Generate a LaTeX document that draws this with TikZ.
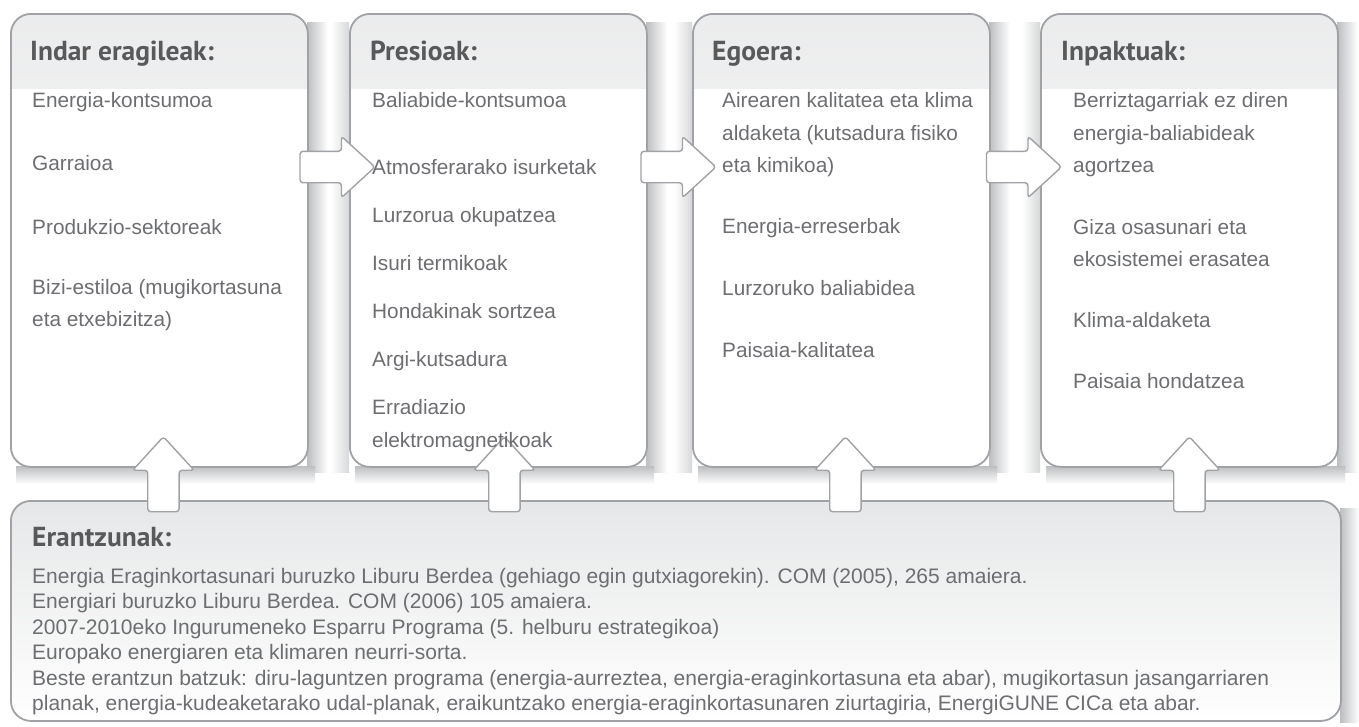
\documentclass[tikz,border=0pt]{standalone}
\usepackage{fontspec}
\setmainfont{Liberation Sans}
\newfontfamily\headfont{PT Sans}
\usetikzlibrary{calc, positioning, shapes.arrows}
\definecolor{dps-text}{HTML}{6D6E71}
\definecolor{dps-head}{HTML}{58595B}
\definecolor{dps-rule}{HTML}{A0A2A5}
\definecolor{dps-tint}{HTML}{E6E7E8}
\definecolor{dps-shade}{HTML}{BCBEC0}

\tikzset{
  panel/.style={draw=dps-rule, line width=1.8pt, rounded corners=20pt, fill=white,
    minimum width=297pt, minimum height=453pt, inner sep=0pt, anchor=north west,
    path picture={\shade[sharp corners, top color=dps-tint!80, bottom color=white]
      (path picture bounding box.north west) rectangle ([yshift=-75pt]path picture bounding box.north east);}},
  basepanel/.style={draw=dps-rule, line width=1.8pt, rounded corners=20pt,
    top color=dps-tint, bottom color=white, inner sep=0pt, anchor=north west},
  heading/.style={anchor=base west, inner sep=0pt, text=dps-head, font=\headfont\bfseries\fontsize{27.5}{32}\selectfont},
  entry/.style={anchor=base west, inner sep=0pt, text=dps-text, font=\fontsize{20.8}{24}\selectfont},
  note/.style={entry, font=\fontsize{21}{25}\selectfont},
  blockarrow/.style={single arrow, draw=dps-rule, line width=1.4pt, fill=white, rounded corners=3pt,
    inner sep=0pt, text height=15pt, text depth=15pt, minimum height=75pt,
    single arrow head extend=15pt, single arrow tip angle=85}
}

\begin{document}
\begin{tikzpicture}[x=1pt, y=-1pt]
  \useasboundingbox (0,0) rectangle (1359,726);

  % soft shadows behind the panels
  \foreach \l in {10, 349, 692, 1040} {
    \shade[left color=dps-shade, right color=white] (\l+297,22) rectangle (\l+318,472);
    \shade[top color=dps-shade, bottom color=white] (\l+6,466) rectangle (\l+305,484);
  }
  \foreach \l in {349, 692, 1040}
    \shade[left color=white, right color=dps-shade!60] (\l-18,22) rectangle (\l,472);
  \shade[left color=dps-shade, right color=white] (1340,508) rectangle (1359,722);

  % panels
  \node[panel] (indar) at (10,13) {};
  \node[panel] (presio) at (349,13) {};
  \node[panel] (egoera) at (692,13) {};
  \node[panel] (inpaktu) at (1040,13) {};
  \node[basepanel, minimum width=1330pt, minimum height=220pt] (erantzun) at (10,500) {};

  % right arrows
  \node[blockarrow] (ar1) at ($(indar.north east)!0.5!(presio.north west)+(0,154)$) {};
  \node[blockarrow] (ar2) at ($(presio.north east)!0.5!(egoera.north west)+(0,154)$) {};
  \node[blockarrow] (ar3) at ($(egoera.north east)!0.5!(inpaktu.north west)+(0,154)$) {};

  % up arrows from the responses
  \node[blockarrow, rotate=90] (au1) at ($(indar.south)+(4,15)$) {};
  \node[blockarrow, rotate=90] (au2) at ($(presio.south)+(6,15)$) {};
  \node[blockarrow, rotate=90] (au3) at ($(egoera.south)+(4,15)$) {};
  \node[blockarrow, rotate=90] (au4) at ($(inpaktu.south)+(0,15)$) {};

  % Indar eragileak
  \node[heading] (t1) at (30,60) {Indar eragileak:};
  \node[entry] (i1) at (32,107) {Energia-kontsumoa};
  \node[entry] (i2) at (32,170) {Garraioa};
  \node[entry] (i3) at (32,234) {Produkzio-sektoreak};
  \node[entry] (i4) at (32,294) {Bizi-estiloa (mugikortasuna};
  \node[entry] (i5) at (32,326) {eta etxebizitza)};

  % Presioak
  \node[heading] (t2) at (370,60) {Presioak:};
  \node[entry] (p1) at (372,107) {Baliabide-kontsumoa};
  \node[entry] (p2) at (372,174) {Atmosferarako isurketak};
  \node[entry] (p3) at (372,222) {Lurzorua okupatzea};
  \node[entry] (p4) at (372,270) {Isuri termikoak};
  \node[entry] (p5) at (372,318) {Hondakinak sortzea};
  \node[entry] (p6) at (372,366) {Argi-kutsadura};
  \node[entry] (p7) at (372,414) {Erradiazio};
  \node[entry] (p8) at (372,447) {elektromagnetikoak};

  % Egoera
  \node[heading] (t3) at (712,60) {Egoera:};
  \node[entry] (e1) at (722,107) {Airearen kalitatea eta klima};
  \node[entry] (e2) at (722,140) {aldaketa (kutsadura fisiko};
  \node[entry] (e3) at (722,172) {eta kimikoa)};
  \node[entry] (e4) at (722,233) {Energia-erreserbak};
  \node[entry] (e5) at (722,295) {Lurzoruko baliabidea};
  \node[entry] (e6) at (722,357) {Paisaia-kalitatea};

  % Inpaktuak
  \node[heading] (t4) at (1061,60) {Inpaktuak:};
  \node[entry] (k1) at (1073,107) {Berriztagarriak ez diren};
  \node[entry] (k2) at (1073,140) {energia-baliabideak};
  \node[entry] (k3) at (1073,172) {agortzea};
  \node[entry] (k4) at (1073,234) {Giza osasunari eta};
  \node[entry] (k5) at (1073,266) {ekosistemei erasatea};
  \node[entry] (k6) at (1073,327) {Klima-aldaketa};
  \node[entry] (k7) at (1073,388) {Paisaia hondatzea};

  % Erantzunak
  \node[heading] (t5) at (32,546) {Erantzunak:};
  \node[note] (r1) at (32,583) {Energia Eraginkortasunari buruzko Liburu Berdea (gehiago egin gutxiagorekin). COM (2005), 265 amaiera.};
  \node[note] (r2) at (32,608.5) {Energiari buruzko Liburu Berdea. COM (2006) 105 amaiera.};
  \node[note] (r3) at (32,634) {2007-2010eko Ingurumeneko Esparru Programa (5. helburu estrategikoa)};
  \node[note] (r4) at (32,659.5) {Europako energiaren eta klimaren neurri-sorta.};
  \node[note] (r5) at (32,685) {Beste erantzun batzuk: diru-laguntzen programa (energia-aurreztea, energia-eraginkortasuna eta abar), mugikortasun jasangarriaren};
  \node[note] (r6) at (32,710) {planak, energia-kudeaketarako udal-planak, eraikuntzako energia-eraginkortasunaren ziurtagiria, EnergiGUNE CICa eta abar.};
\end{tikzpicture}
\end{document}
